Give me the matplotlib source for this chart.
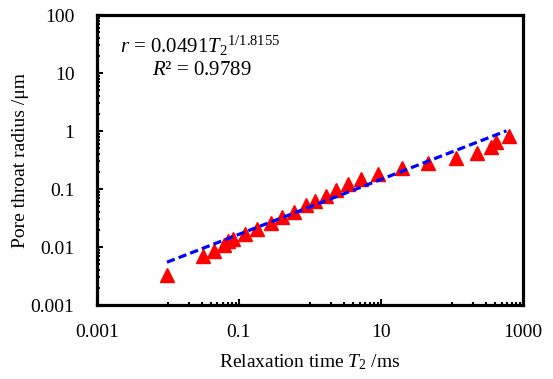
import numpy as np
import matplotlib
matplotlib.use("Agg")
import matplotlib.pyplot as plt
from matplotlib.ticker import FixedLocator, NullFormatter, FixedFormatter

plt.rcParams['font.family'] = ['Liberation Serif', 'DejaVu Serif']
plt.rcParams['mathtext.fontset'] = 'custom'
plt.rcParams['mathtext.rm'] = 'Liberation Serif'
plt.rcParams['mathtext.it'] = 'Liberation Serif:italic'

# Data
t2_ms = [0.00975, 0.031, 0.0447, 0.0616, 0.0703, 0.0818, 0.123, 0.182, 0.280,
         0.404, 0.590, 0.871, 1.19, 1.68, 2.32, 3.42, 5.33, 9.14, 20.1, 46.7,
         113, 225, 360, 423, 636]
radius_um = [0.00329, 0.00708, 0.00853, 0.0108, 0.0129, 0.0137, 0.0166, 0.0202,
             0.0257, 0.0325, 0.0406, 0.0524, 0.0628, 0.0765, 0.0962, 0.1205,
             0.147, 0.182, 0.2275, 0.277, 0.338, 0.423, 0.536, 0.655, 0.830]

# Power-law trendline r = a * T2^b (as drawn)
fit_a = 0.0491
fit_b = 0.474

x_ticks = [0.001, 0.1, 10, 1000]
x_tick_labels = ['0.001', '0.1', '10', '1000']
y_ticks = [0.001, 0.01, 0.1, 1, 10, 100]
y_tick_labels = ['0.001', '0.01', '0.1', '1', '10', '100']

fig = plt.figure(figsize=(5.53, 3.79), dpi=100)
ax = fig.add_axes([96.7 / 553, 1 - 305 / 379, (523 - 96.7) / 553, (305 - 15) / 379])

tx = np.logspace(np.log10(min(t2_ms)), np.log10(max(t2_ms) * 0.92), 100)
ax.plot(tx, fit_a * tx ** fit_b, color='#0000FF', lw=2.3, dashes=(2.6, 1.3), zorder=3)
ax.plot(t2_ms, radius_um, linestyle='none', marker='^', ms=9.5, color='#FF0000',
        mec='#FF0000', zorder=2)

ax.set_xscale('log')
ax.set_yscale('log')
ax.set_xlim(0.001, 1000)
ax.set_ylim(0.001, 100)

ax.xaxis.set_major_locator(FixedLocator(x_ticks))
ax.xaxis.set_major_formatter(FixedFormatter(x_tick_labels))
xminor = [k * 10.0 ** e for e in (-2, 0, 2) for k in range(1, 10)]
ax.xaxis.set_minor_locator(FixedLocator(xminor))
ax.xaxis.set_minor_formatter(NullFormatter())

ax.yaxis.set_major_locator(FixedLocator(y_ticks))
ax.yaxis.set_major_formatter(FixedFormatter(y_tick_labels))
yminor = [k * 10.0 ** e for e in range(-3, 2) for k in range(2, 10)]
ax.yaxis.set_minor_locator(FixedLocator(yminor))
ax.yaxis.set_minor_formatter(NullFormatter())

ax.tick_params(which='both', direction='in', width=1.5, labelsize=14,
               top=False, right=False)
ax.tick_params(which='major', length=4)
ax.tick_params(which='minor', length=2.5)
ax.tick_params(axis='x', pad=13.5)
ax.tick_params(axis='y', pad=16)

for s in ax.spines.values():
    s.set_linewidth(2.3)
    s.set_color('black')

ax.set_xlabel('Relaxation time $T_2$ /ms', fontsize=14, labelpad=8)
ax.set_ylabel('Pore throat radius /μm', fontsize=14, labelpad=1)

ax.text(0.242, 0.893, r'$r$ = 0.0491$T_{2}{}^{1/1.8155}$', transform=ax.transAxes,
        ha='center', va='center', fontsize=15)
ax.text(0.246, 0.808, '$R$² = 0.9789', transform=ax.transAxes,
        ha='center', va='center', fontsize=15)

fig.savefig('out.png', dpi=100)
